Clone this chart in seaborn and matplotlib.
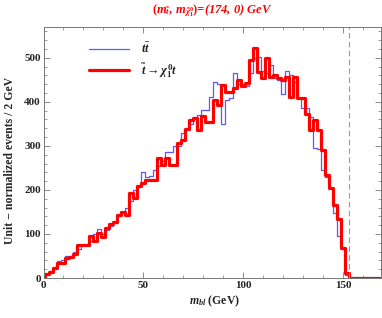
import numpy as np
import pandas as pd
import matplotlib
matplotlib.use("Agg")
import matplotlib.pyplot as plt
import seaborn as sns
from matplotlib.lines import Line2D
from matplotlib.ticker import MultipleLocator

# bin centres (GeV), 2 GeV wide bins
m_bl = list(range(0, 170, 2))

# t tbar (blue)
ttbar = [5, 10, 15, 25, 38, 40, 50, 50, 60, 65,
         75, 75, 85, 100, 112, 100, 110, 118, 128, 140,
         150, 160, 175, 200, 210, 240, 230, 232, 245, 255,
         265, 287, 287, 300, 300, 329, 340, 350, 365, 370,
         382, 382, 412, 446, 440, 349, 405, 408, 465, 440,
         440, 435, 465, 500, 503, 469, 465, 484, 455, 450,
         418, 470, 462, 446, 408, 386, 386, 365, 295, 292,
         245, 230, 205, 148, 96, 65, 7, 0, 0, 0,
         0, 0, 0, 0, 0]

# stop -> chi t (red)
stop = [3, 8, 14, 22, 33, 33, 45, 48, 55, 75,
        75, 75, 95, 85, 103, 93, 113, 122, 128, 143,
        151, 143, 193, 181, 208, 215, 223, 223, 223, 272,
        257, 272, 257, 257, 306, 314, 338, 359, 363, 336,
        367, 355, 355, 405, 393, 439, 423, 423, 431, 450,
        435, 442, 495, 522, 468, 455, 499, 457, 460, 454,
        450, 457, 412, 457, 408, 408, 373, 336, 359, 336,
        291, 235, 204, 166, 135, 68, 12, 0, 0, 0,
        0, 0, 0, 0, 0]

endpoint = 153

df = pd.DataFrame({"m_bl": m_bl, "ttbar": ttbar, "stop": stop})

sns.set_theme(style="ticks")
plt.rcParams['font.family'] = ['Liberation Serif', 'DejaVu Serif']
plt.rcParams['font.weight'] = 'bold'
plt.rcParams['mathtext.fontset'] = 'custom'
plt.rcParams['mathtext.rm'] = 'Liberation Serif:bold'
plt.rcParams['mathtext.it'] = 'Liberation Serif:italic:bold'
plt.rcParams['mathtext.bf'] = 'Liberation Serif:bold'

fig = plt.figure(figsize=(3.82, 3.18), dpi=100)
ax = fig.add_axes([43.5 / 382, 40 / 318, (381 - 43.5) / 382, 251 / 318])

blue = "#5a5aff"
red = "#ff0000"

sns.histplot(data=df, x="m_bl", weights="ttbar", binwidth=2, binrange=(-1, 169),
             element="step", fill=False, color=blue, linewidth=0.9, ax=ax)
sns.histplot(data=df, x="m_bl", weights="stop", binwidth=2, binrange=(-1, 169),
             element="step", fill=False, color=red, linewidth=2.3, ax=ax)

ax.axvline(endpoint, color="#999999", linestyle=(0, (5, 3)), linewidth=0.8)

ax.set_xlim(0, 169)
ax.set_ylim(0, 570)
ax.xaxis.set_major_locator(MultipleLocator(50))
ax.xaxis.set_minor_locator(MultipleLocator(10))
ax.yaxis.set_major_locator(MultipleLocator(100))
ax.yaxis.set_minor_locator(MultipleLocator(20))
ax.tick_params(which="both", direction="in", top=True, right=True,
               color="#777777", labelsize=8, pad=2)
ax.tick_params(which="major", length=4, width=0.6)
ax.tick_params(which="minor", length=2, width=0.5)
for lab in ax.get_xticklabels() + ax.get_yticklabels():
    lab.set_fontweight("bold")
for sp in ax.spines.values():
    sp.set_color("#777777")
    sp.set_linewidth(0.7)
ax.set_xlabel("")
ax.set_ylabel("")

fig.text(215 / 382, 1 - 301 / 318, r"$m_{bl}$ (GeV)", ha="center", va="center",
         fontsize=8.5, fontweight="bold")
fig.text(10 / 382, 1 - 160 / 318, "Unit \u2212 normalized events / 2 GeV",
         rotation=90, ha="center", va="center", fontsize=8.5, fontweight="bold")
fig.text(212 / 382, 1 - 11 / 318,
         r"$(m_{\tilde{t}},\, m_{\tilde{\chi}_1^0})$=(174, 0) $GeV$",
         ha="center", va="center", fontsize=9, color=red,
         fontweight="bold", fontstyle="italic")

handles = [Line2D([], [], color=blue, linewidth=0.9),
           Line2D([], [], color=red, linewidth=2.3)]
labels = [r"$t\bar{t}$", r"$\tilde{t}\rightarrow\chi_1^0 t$"]
ax.legend(handles, labels, loc="upper left", bbox_to_anchor=(0.1, 0.985),
          frameon=False, fontsize=9, handlelength=3.2, handletextpad=1.0,
          labelspacing=0.4)

fig.savefig("out.png", dpi=100)
